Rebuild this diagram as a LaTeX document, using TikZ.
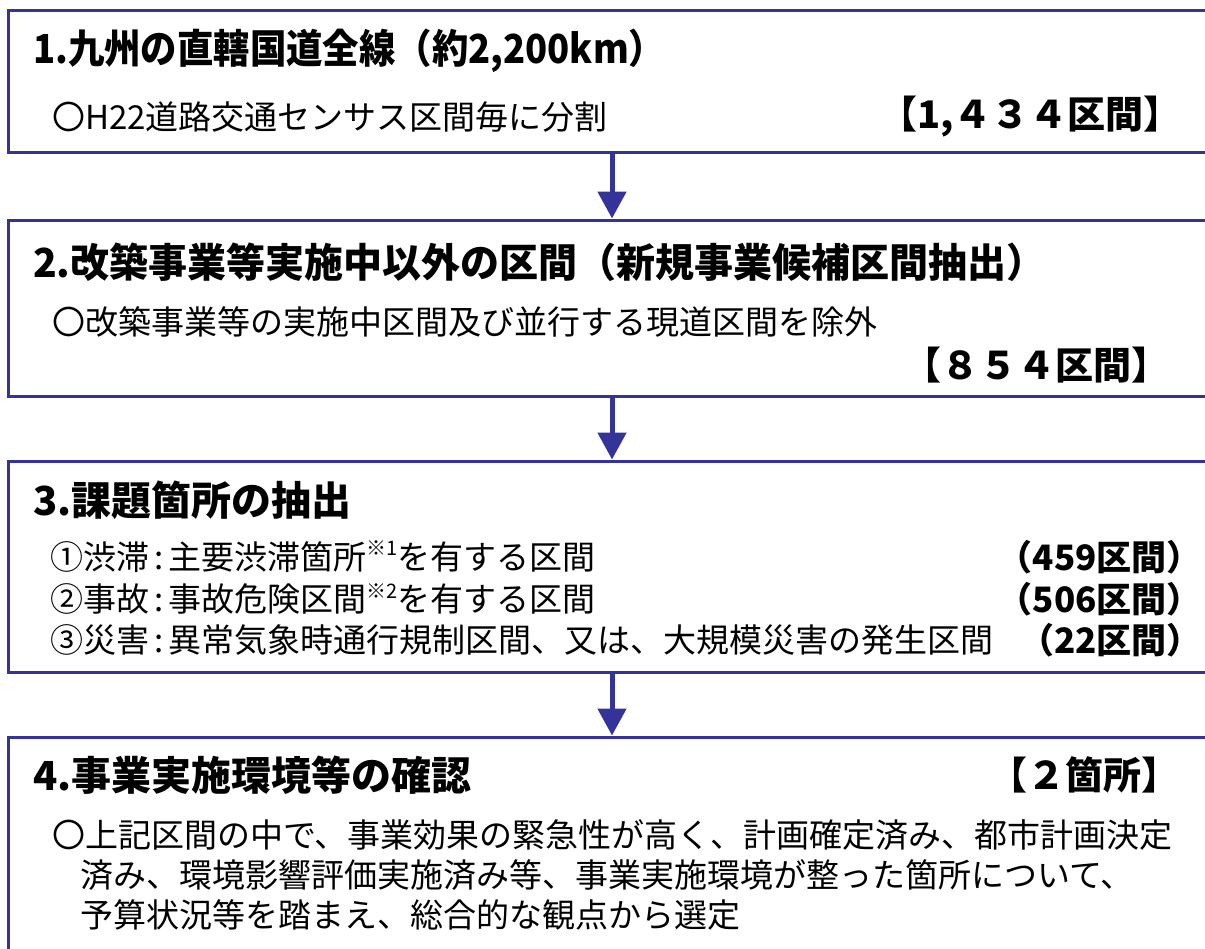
\documentclass[tikz,border=0pt]{standalone}
\usepackage{fontspec}
\setmainfont{Noto Sans CJK JP}
\usetikzlibrary{arrows.meta}
\definecolor{frame}{HTML}{333399}
\newcommand{\note}[1]{\raisebox{0.42em}{\fontsize{20}{20}\selectfont #1}}
\newcommand{\colonsep}{\hspace{5pt}:\hspace{5pt}}
\begin{document}
\begin{tikzpicture}[x=1pt,y=-1pt,
 box/.style={draw=frame,line width=3pt,rectangle,inner sep=0pt},
 ttl/.style={anchor=west,inner sep=0pt,font=\fontsize{40}{40}\selectfont\bfseries},
 body/.style={anchor=west,inner sep=0pt,font=\fontsize{33}{33}\selectfont},
 cnt/.style={anchor=east,inner sep=0pt,font=\fontsize{38}{38}\selectfont\bfseries},
 num/.style={anchor=east,inner sep=0pt,font=\fontsize{35}{35}\selectfont\bfseries},
 flow/.style={draw=frame,line width=5pt,-{Triangle[width=28pt,length=27pt]}}]
\useasboundingbox (0,0) rectangle (1205,948);
\clip (0,0) rectangle (1205,948);
\node[box,minimum width=1207pt,minimum height=142pt] (b1) at (611.5,81) {};
\node[box,minimum width=1207pt,minimum height=176pt] (b2) at (611.5,308) {};
\node[box,minimum width=1207pt,minimum height=211pt] (b3) at (611.5,566.5) {};
\node[box,minimum width=1207pt,minimum height=243pt] (b4) at (611.5,858.5) {};
\coordinate (ax) at (612,0);
\draw[flow] (b1.south -| ax) -- (b2.north -| ax);
\draw[flow] (b2.south -| ax) -- (b3.north -| ax);
\draw[flow] (b3.south -| ax) -- (b4.north -| ax);
% box 1
\node[ttl,xscale=0.91] (t1) at (33,51) {1.九州の直轄国道全線（約2,200km）};
\node[body] (s1) at (52,117) {〇H22道路交通センサス区間毎に分割};
\node[cnt] (c1) at (1182,117) {【1,４３４区間】};
% box 2
\node[ttl,xscale=0.975] (t2) at (33,262) {2.改築事業等実施中以外の区間（新規事業候補区間抽出）};
\node[body] (s2) at (52,322) {〇改築事業等の実施中区間及び並行する現道区間を除外};
\node[cnt] (c2) at (1170,365) {【８５４区間】};
% box 3
\node[ttl] (t3) at (33,500) {3.課題箇所の抽出};
\node[body] (i1) at (50,557) {①渋滞\colonsep 主要渋滞箇所\note{※1}を有する区間};
\node[body] (i2) at (50,599) {②事故\colonsep 事故危険区間\note{※2}を有する区間};
\node[body] (i3) at (50,640) {③災害\colonsep 異常気象時通行規制区間、又は、大規模災害の発生区間};
\node[num] (n1) at (1202,557) {（459区間）};
\node[num] (n2) at (1202,599) {（506区間）};
\node[num] (n3) at (1202,640) {（22区間）};
% box 4
\node[ttl] (t4) at (33,775) {4.事業実施環境等の確認};
\node[cnt] (c4) at (1180,775) {【２箇所】};
\node[body] (l1) at (52,835) {〇上記区間の中で、事業効果の緊急性が高く、計画確定済み、都市計画決定};
\node[body] (l2) at (80,875) {済み、環境影響評価実施済み等、事業実施環境が整った箇所について、};
\node[body] (l3) at (80,915) {予算状況等を踏まえ、総合的な観点から選定};
\end{tikzpicture}
\end{document}
